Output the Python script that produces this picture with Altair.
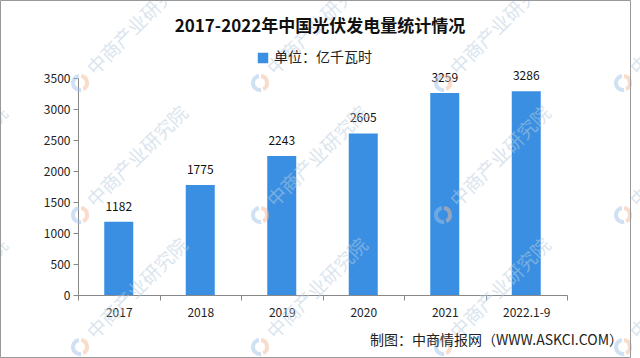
import math
import altair as alt
import pandas as pd

categories = ["2017", "2018", "2019", "2020", "2021", "2022.1-9"]
values = [1182, 1775, 2243, 2605, 3259, 3286]
y_ticks = [0, 500, 1000, 1500, 2000, 2500, 3000, 3500]
series_name = "单位：亿千瓦时"
title_text = "2017-2022年中国光伏发电量统计情况"
source_text = "制图：中商情报网（WWW.ASKCI.COM）"
watermark_text = "中商产业研究院"

df = pd.DataFrame({"year": categories, "value": values, "series": [series_name] * len(values)})

FONT = "Noto Sans CJK SC"
W, H = 489, 217
PL, PT, PR, PB = 78, 78, 73, 63
BAR = "#3a8fe2"

x = alt.X("year:N", sort=categories, title=None,
          scale=alt.Scale(paddingInner=0.0, paddingOuter=0.0),
          axis=alt.Axis(labelAngle=0, tickBand="extent", labelFont=FONT, labelFontSize=12,
                        labelColor="#222", domainColor="#888", tickColor="#888",
                        tickSize=5, labelPadding=7))

y = alt.Y("value:Q", title=None,
          scale=alt.Scale(domain=[0, 3500], nice=False),
          axis=alt.Axis(values=y_ticks, format="d", grid=False,
                        labelFont=FONT, labelFontSize=12, labelColor="#222",
                        domainColor="#888", tickColor="#888", tickSize=5, labelPadding=3,
                        labelFlush=False, labelOverlap=False))

bars = alt.Chart(df).mark_bar(size=29, color=BAR).encode(
    x=x,
    y=y,
    color=alt.Color("series:N", scale=alt.Scale(range=[BAR]),
                    legend=alt.Legend(title=None, orient="none", legendX=178, legendY=-27,
                                      symbolType="square", symbolSize=110,
                                      labelFont=FONT, labelFontSize=14, labelColor="#222")),
)

labels = alt.Chart(df).mark_text(dy=-15, font=FONT, fontSize=12, color="#111").encode(
    x=x,
    y=y,
    text="value:Q",
)

meta = pd.DataFrame({"title": [title_text], "src": [source_text], "wm": [watermark_text]})

title = alt.Chart(meta).mark_text(align="center", baseline="middle", font=FONT, fontSize=17,
                                  fontWeight="bold", color="#111").encode(
    x=alt.value(320 - PL), y=alt.value(27 - PT), text="title:N")

source = alt.Chart(meta).mark_text(align="right", baseline="middle", font=FONT, fontSize=14,
                                   color="#222").encode(
    x=alt.value(623 - PL), y=alt.value(341 - PT), text="src:N")

border = alt.Chart(meta).mark_rect(fill=None, stroke="#999", strokeWidth=1).encode(
    x=alt.value(-PL + 0.5), x2=alt.value(630.5 - PL),
    y=alt.value(-PT + 0.5), y2=alt.value(357.5 - PT))

# faint diagonal watermarks (logo + text), positions in picture pixels
wm_layers = []
for lx in [-100, 80, 260, 443, 623]:
    for ly in [83, 215, 347]:
        cx, cy = lx - PL, ly - PT
        wm_layers.append(
            alt.Chart(meta).mark_arc(radius=9, radius2=5, theta=math.pi * 0.95,
                                     theta2=math.pi * 1.95, color="#9fc3e8", opacity=0.5)
            .encode(x=alt.value(cx), y=alt.value(cy))
        )
        wm_layers.append(
            alt.Chart(meta).mark_arc(radius=9, radius2=5, theta=0.15,
                                     theta2=math.pi * 0.85, color="#f3b99a", opacity=0.5)
            .encode(x=alt.value(cx), y=alt.value(cy))
        )
        wm_layers.append(
            alt.Chart(meta).mark_text(align="left", baseline="middle", angle=315, font=FONT,
                                      fontSize=19, color="#b8cde0", opacity=0.5)
            .encode(x=alt.value(cx + 11), y=alt.value(cy - 11), text="wm:N")
        )

chart = alt.layer(bars, labels, *wm_layers, title, source, border).properties(
    width=W, height=H,
    autosize=alt.AutoSizeParams(type="none"),
    padding={"left": PL, "top": PT, "right": PR, "bottom": PB},
    background="white",
).configure_view(stroke=None)

chart.save("out.html", embed_options={"renderer": "svg", "actions": False})
